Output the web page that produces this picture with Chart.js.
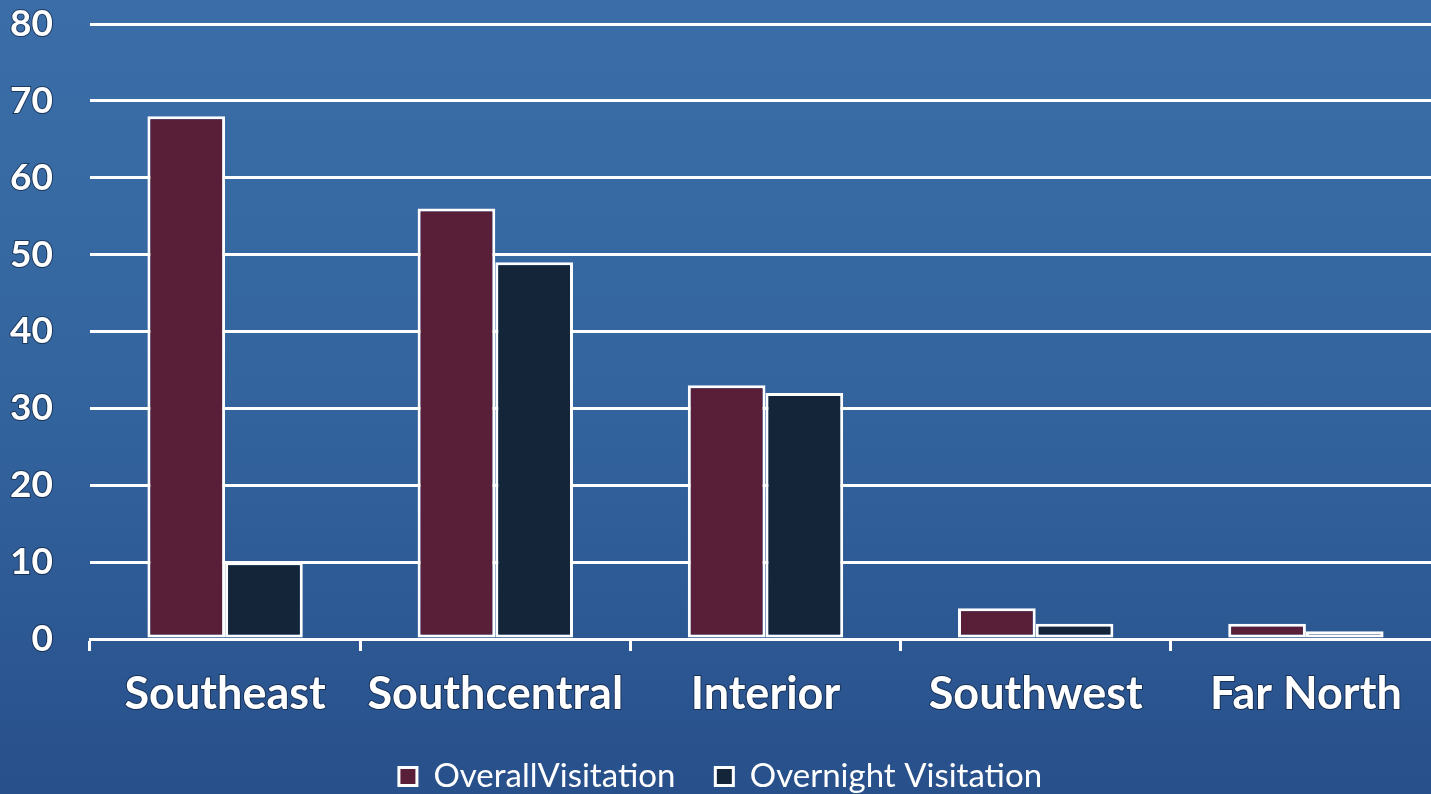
<!DOCTYPE html>
<html><head><meta charset="utf-8">
<script src="https://cdn.jsdelivr.net/npm/chart.js@4/dist/chart.umd.min.js"></script>
<style>
html,body{margin:0;padding:0;overflow:hidden;width:1431px;height:794px;}
body{background:linear-gradient(180deg,#3b6ea8 0%,#33649e 50%,#28508b 100%);}
#wrap{width:1441px;height:794px;position:relative;}
</style></head><body>
<div id="wrap"><canvas id="c"></canvas></div>
<script>
const categories = ["Southeast","Southcentral","Interior","Southwest","Far North"];
const overallVisitation = [68, 56, 33, 4, 2];
const overnightVisitation = [10, 49, 32, 2, 1];
const seriesNames = ["OverallVisitation","Overnight Visitation"];
const yTicks = [0,10,20,30,40,50,60,70,80];

const FONT = "'Lato','Open Sans',sans-serif";
new Chart(document.getElementById('c'), {
  type: 'bar',
  data: {
    labels: categories,
    datasets: [
      {label: seriesNames[0], data: overallVisitation, backgroundColor:'#5a1f38', borderColor:'#ffffff', borderWidth:3, borderSkipped:false},
      {label: seriesNames[1], data: overnightVisitation, backgroundColor:'#142539', borderColor:'#ffffff', borderWidth:3, borderSkipped:false}
    ]
  },
  options: {
    responsive:true, maintainAspectRatio:false, animation:false,
    layout:{padding:{top:24,right:0,bottom:-9,left:0}},
    datasets:{bar:{categoryPercentage:0.575, barPercentage:1}},
    plugins:{
      tooltip:{enabled:false},
      legend:{position:'bottom',
        labels:{color:'#ffffff', font:{family:FONT,size:33,weight:'normal'}, boxWidth:18, boxHeight:18, padding:40,
          generateLabels:(chart)=>chart.data.datasets.map((d,i)=>({text:d.label,fillStyle:d.backgroundColor,strokeStyle:'#ffffff',lineWidth:3,fontColor:'#ffffff',datasetIndex:i}))
        }}
    },
    scales:{
      x:{
        grid:{display:true, offset:true, drawOnChartArea:false, drawTicks:true, tickLength:12, color:'#ffffff', lineWidth:3},
        border:{display:true,color:'#ffffff',width:3},
        ticks:{color:'#ffffff', font:{family:FONT,size:45,weight:'bold'}, padding:16, maxRotation:0, textStrokeColor:'rgba(10,25,50,0.6)', textStrokeWidth:2},
        afterFit:(s)=>{s.height=81;}
      },
      y:{
        min:0,max:80,
        afterBuildTicks:(s)=>{s.ticks=yTicks.map(v=>({value:v}));},
        grid:{color:'#ffffff', lineWidth:3, drawTicks:false},
        border:{display:false},
        ticks:{color:'#ffffff', font:{family:FONT,size:37,weight:'bold'}, padding:37, textStrokeColor:'rgba(10,25,50,0.6)', textStrokeWidth:2},
        afterFit:(s)=>{s.width=90; s.paddingTop=0; s.paddingBottom=0;}
      }
    }
  }
});
</script>
</body></html>
